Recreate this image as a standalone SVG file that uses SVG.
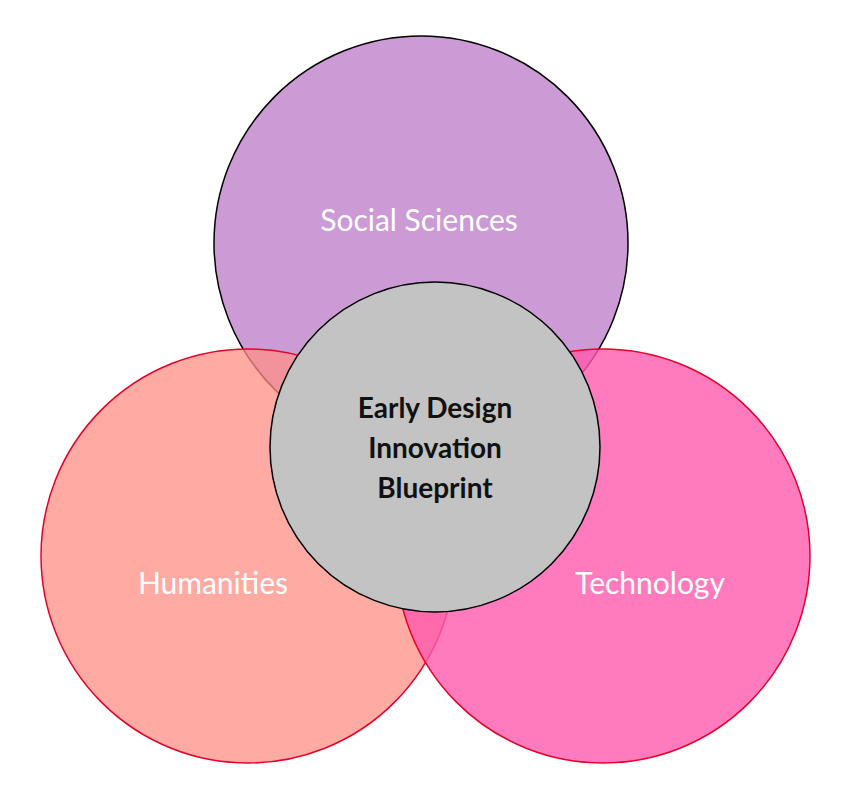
<svg xmlns="http://www.w3.org/2000/svg" width="862" height="800" viewBox="0 0 862 800">
<style>
.lbl{font-family:Lato,"Open Sans",sans-serif;font-size:30px;fill:#fff;text-anchor:middle}
.ctr{font-family:Lato,"Open Sans",sans-serif;font-size:28px;font-weight:bold;fill:#111;text-anchor:middle}
</style>
<rect width="862" height="800" fill="#fff"/>
<g id="social"><circle cx="421" cy="243" r="207" fill="#c68fd0" fill-opacity="0.9" stroke="#000" stroke-width="1.5"/><text class="lbl" x="419" y="231">Social Sciences</text></g>
<g id="humanities"><circle cx="248" cy="556" r="207" fill="#ff8f86" fill-opacity="0.75" stroke="#e8002a" stroke-width="1.5"/><text class="lbl" x="213" y="594">Humanities</text></g>
<g id="technology"><circle cx="603" cy="556" r="207" fill="#ff5aae" fill-opacity="0.8" stroke="#e8002a" stroke-width="1.5"/><text class="lbl" x="650" y="594">Technology</text></g>
<g id="center"><circle cx="435" cy="447" r="165" fill="#c3c3c3" stroke="#000" stroke-width="1.5"/>
<text class="ctr" x="435" y="418">Early Design</text><text class="ctr" x="435" y="458">Innovation</text><text class="ctr" x="435" y="498">Blueprint</text></g>
<g id="connectors"/>
</svg>
